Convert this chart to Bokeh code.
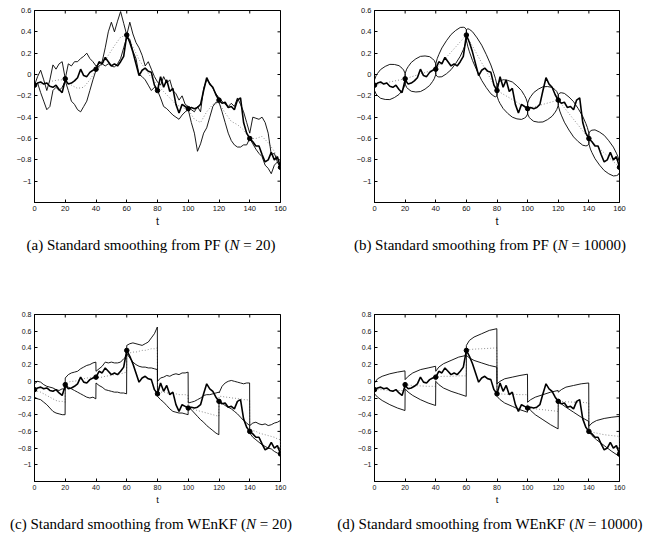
import math
from bokeh.plotting import figure
from bokeh.layouts import column, row
from bokeh.models import FixedTicker, CustomJSTickFormatter, Range1d, Div
from bokeh.embed import file_html
from bokeh.resources import INLINE

# ---------------- data ----------------
x_ticks = [0, 20, 40, 60, 80, 100, 120, 140, 160]
y_ticks_top = [-1.0, -0.8, -0.6, -0.4, -0.2, 0.0, 0.2, 0.4, 0.6]
y_ticks_bottom = [-1.0, -0.8, -0.6, -0.4, -0.2, 0.0, 0.2, 0.4, 0.6, 0.8]

# true trajectory (thick line), t = 0, 2, ..., 160
t_true = list(range(0, 161, 2))
x_true = [-0.10, -0.08, -0.07, -0.09, -0.08, -0.11, -0.12, -0.10, -0.14, -0.17, -0.05,
          -0.09, -0.08, -0.06, -0.03, 0.05, -0.01, -0.02, 0.02, 0.04, 0.05,
          0.12, 0.10, 0.16, 0.12, 0.08, 0.10, 0.08, 0.12, 0.17, 0.37,
          0.30, 0.21, 0.10, -0.01, 0.04, 0.06, 0.03, 0.02, -0.10, -0.15,
          -0.02, -0.12, -0.05, -0.16, -0.13, -0.28, -0.36, -0.28, -0.30, -0.32,
          -0.31, -0.32, -0.31, -0.28, -0.15, -0.03, -0.09, -0.12, -0.19, -0.24,
          -0.27, -0.26, -0.31, -0.30, -0.33, -0.24, -0.22, -0.45, -0.55, -0.60,
          -0.63, -0.67, -0.67, -0.75, -0.82, -0.80, -0.73, -0.80, -0.77, -0.87]

# observations (dots)
t_obs = [0, 20, 40, 60, 80, 100, 120, 140, 160]
y_obs = [-0.10, -0.04, 0.05, 0.37, -0.15, -0.32, -0.24, -0.60, -0.87]

# (a) PF, N = 20
a_t = list(range(0, 161, 2))
a_upper = [-0.10, -0.02, 0.04, -0.05, -0.15, -0.05, 0.09, 0.05, 0.10, 0.12, -0.04,
           0.10, 0.08, 0.12, 0.12, 0.15, 0.17, 0.20, 0.15, 0.12, 0.08,
           0.10, 0.12, 0.25, 0.40, 0.49, 0.40, 0.50, 0.59, 0.48, 0.37,
           0.49, 0.38, 0.30, 0.25, 0.18, 0.08, 0.12, 0.05, -0.02, -0.07,
           -0.10, -0.02, -0.08, -0.05, -0.15, -0.18, -0.24, -0.20, -0.28, -0.30,
           -0.33, -0.35, -0.30, -0.35, -0.13, -0.05, -0.08, -0.13, -0.18, -0.22,
           -0.25, -0.28, -0.30, -0.27, -0.30, -0.22, -0.28, -0.35, -0.45, -0.55,
           -0.40, -0.41, -0.42, -0.40, -0.45, -0.55, -0.75, -0.74, -0.82, -0.87]
a_lower = [-0.10, -0.08, -0.17, -0.25, -0.33, -0.30, -0.15, -0.12, -0.15, -0.12, -0.06,
           -0.15, -0.25, -0.28, -0.33, -0.35, -0.30, -0.25, -0.15, -0.05, 0.04,
           0.08, 0.10, 0.08, 0.10, 0.08, 0.07, 0.10, 0.15, 0.25, 0.35,
           0.33, 0.22, 0.15, 0.00, -0.02, -0.05, -0.10, -0.15, -0.12, -0.15,
           -0.22, -0.30, -0.32, -0.35, -0.38, -0.40, -0.42, -0.38, -0.35, -0.33,
           -0.45, -0.55, -0.72, -0.65, -0.55, -0.50, -0.40, -0.30, -0.26, -0.26,
           -0.35, -0.45, -0.55, -0.62, -0.66, -0.68, -0.68, -0.66, -0.66, -0.60,
           -0.65, -0.70, -0.74, -0.77, -0.85, -0.88, -0.93, -0.85, -0.82, -0.87]
a_mean_t = list(range(0, 161, 4))
a_mean = [-0.10, -0.09, -0.08, -0.06, -0.05, -0.05, -0.10, -0.13, -0.12, -0.05, 0.04,
          0.09, 0.18, 0.27, 0.35, 0.37, 0.26, 0.14, 0.05, -0.03, -0.10,
          -0.16, -0.22, -0.28, -0.31, -0.33, -0.42, -0.45, -0.35, -0.28, -0.27,
          -0.36, -0.44, -0.47, -0.52, -0.60, -0.60, -0.58, -0.64, -0.72, -0.87]

# (b) PF, N = 10000: band per interval (offsets within each 20-step interval)
b_offsets = [0, 1, 2, 4, 7, 10, 13, 16, 18, 19, 20]
b_upper = [
    [-0.05, -0.012, 0.011, 0.047, 0.076, 0.095, 0.094, 0.083, 0.059, 0.042, 0.01],
    [0.01, 0.05, 0.074, 0.113, 0.147, 0.17, 0.174, 0.167, 0.146, 0.131, 0.10],
    [0.10, 0.151, 0.187, 0.249, 0.317, 0.375, 0.413, 0.441, 0.443, 0.439, 0.42],
    [0.42, 0.429, 0.423, 0.401, 0.343, 0.275, 0.187, 0.089, 0.007, -0.039, -0.10],
    [-0.10, -0.074, -0.062, -0.049, -0.055, -0.07, -0.106, -0.151, -0.198, -0.227, -0.27],
    [-0.27, -0.231, -0.207, -0.169, -0.137, -0.115, -0.113, -0.121, -0.143, -0.159, -0.19],
    [-0.19, -0.173, -0.171, -0.177, -0.211, -0.255, -0.319, -0.393, -0.459, -0.497, -0.55],
    [-0.55, -0.529, -0.522, -0.519, -0.540, -0.57, -0.621, -0.681, -0.738, -0.772, -0.82],
]
b_lower = [
    [-0.15, -0.182, -0.199, -0.223, -0.234, -0.235, -0.216, -0.187, -0.151, -0.128, -0.09],
    [-0.09, -0.121, -0.136, -0.157, -0.164, -0.16, -0.137, -0.103, -0.064, -0.040, 0.0],
    [0.0, -0.019, -0.023, -0.021, 0.007, 0.045, 0.103, 0.171, 0.233, 0.269, 0.32],
    [0.32, 0.259, 0.213, 0.131, 0.033, -0.055, -0.123, -0.181, -0.203, -0.209, -0.20],
    [-0.20, -0.244, -0.272, -0.319, -0.365, -0.40, -0.416, -0.421, -0.408, -0.397, -0.37],
    [-0.37, -0.401, -0.417, -0.439, -0.447, -0.445, -0.423, -0.391, -0.353, -0.329, -0.29],
    [-0.29, -0.343, -0.381, -0.447, -0.521, -0.585, -0.629, -0.663, -0.669, -0.667, -0.65],
    [-0.65, -0.699, -0.732, -0.789, -0.850, -0.90, -0.931, -0.951, -0.948, -0.942, -0.92],
]
b_mean = [-0.10, -0.04, 0.05, 0.37, -0.15, -0.32, -0.24, -0.60, -0.87]

# (c) WEnKF, N = 20
c_offsets = [0, 2, 4, 6, 8, 10, 12, 14, 16, 18, 19.9]
c_upper = [
    [-0.03, 0.0, -0.01, -0.04, -0.06, -0.07, -0.08, -0.10, -0.11, -0.09, -0.10],
    [0.04, 0.08, 0.10, 0.11, 0.12, 0.15, 0.17, 0.19, 0.20, 0.22, 0.23],
    [0.12, 0.15, 0.18, 0.23, 0.22, 0.23, 0.22, 0.22, 0.23, 0.27, 0.30],
    [0.43, 0.45, 0.46, 0.45, 0.44, 0.43, 0.45, 0.47, 0.52, 0.57, 0.65],
    [0.0, 0.04, 0.05, 0.07, 0.06, 0.08, 0.09, 0.08, 0.10, 0.10, 0.11],
    [-0.26, -0.25, -0.24, -0.22, -0.20, -0.17, -0.16, -0.16, -0.15, -0.14, -0.13],
    [-0.14, -0.06, -0.02, 0.0, 0.01, 0.0, -0.01, -0.02, -0.03, -0.02, -0.02],
    [-0.53, -0.50, -0.49, -0.51, -0.52, -0.51, -0.53, -0.52, -0.50, -0.49, -0.47],
]
c_lower = [
    [-0.19, -0.21, -0.22, -0.25, -0.28, -0.32, -0.36, -0.38, -0.39, -0.40, -0.40],
    [-0.04, -0.07, -0.09, -0.11, -0.13, -0.15, -0.17, -0.19, -0.20, -0.19, -0.21],
    [-0.02, -0.05, -0.07, -0.10, -0.11, -0.12, -0.13, -0.13, -0.14, -0.14, -0.15],
    [0.33, 0.28, 0.23, 0.20, 0.18, 0.17, 0.17, 0.16, 0.16, 0.15, 0.14],
    [-0.18, -0.22, -0.25, -0.29, -0.33, -0.36, -0.37, -0.38, -0.38, -0.39, -0.40],
    [-0.30, -0.34, -0.38, -0.42, -0.46, -0.49, -0.53, -0.56, -0.59, -0.62, -0.64],
    [-0.22, -0.26, -0.29, -0.31, -0.33, -0.36, -0.39, -0.43, -0.47, -0.50, -0.53],
    [-0.62, -0.67, -0.70, -0.73, -0.76, -0.78, -0.80, -0.81, -0.84, -0.86, -0.88],
]
c_mean = [
    [-0.10, -0.12, -0.13, -0.15, -0.17, -0.19, -0.21, -0.23, -0.24, -0.24, -0.25],
    [-0.02, -0.01, 0.0, 0.0, 0.01, 0.02, 0.03, 0.04, 0.04, 0.05, 0.05],
    [0.04, 0.045, 0.05, 0.06, 0.065, 0.07, 0.08, 0.085, 0.09, 0.10, 0.11],
    [0.33, 0.34, 0.35, 0.35, 0.36, 0.37, 0.37, 0.38, 0.39, 0.39, 0.40],
    [-0.12, -0.13, -0.13, -0.14, -0.14, -0.15, -0.15, -0.16, -0.16, -0.16, -0.17],
    [-0.32, -0.33, -0.34, -0.35, -0.36, -0.37, -0.38, -0.39, -0.40, -0.41, -0.42],
    [-0.18, -0.18, -0.19, -0.19, -0.20, -0.20, -0.21, -0.21, -0.22, -0.22, -0.23],
    [-0.58, -0.59, -0.60, -0.62, -0.63, -0.64, -0.65, -0.66, -0.67, -0.69, -0.70],
]
c_end = [-0.86, -0.89, -0.87]   # upper, lower, mean at t = 160

# (d) WEnKF, N = 10000
d_offsets = [0, 2, 5, 10, 15, 19.9]
d_upper = [
    [-0.02, 0.03, 0.06, 0.09, 0.11, 0.125],
    [0.02, 0.06, 0.10, 0.14, 0.16, 0.18],
    [0.12, 0.17, 0.21, 0.25, 0.29, 0.31],
    [0.43, 0.49, 0.53, 0.57, 0.61, 0.63],
    [-0.03, 0.0, 0.03, 0.05, 0.07, 0.085],
    [-0.25, -0.22, -0.19, -0.16, -0.13, -0.11],
    [-0.13, -0.10, -0.07, -0.05, -0.03, -0.02],
    [-0.54, -0.50, -0.47, -0.445, -0.43, -0.42],
]
d_lower = [
    [-0.15, -0.19, -0.23, -0.28, -0.32, -0.35],
    [-0.09, -0.13, -0.17, -0.22, -0.26, -0.29],
    [0.0, -0.04, -0.08, -0.12, -0.15, -0.18],
    [0.31, 0.28, 0.25, 0.22, 0.19, 0.17],
    [-0.18, -0.22, -0.26, -0.30, -0.34, -0.37],
    [-0.30, -0.35, -0.40, -0.46, -0.52, -0.57],
    [-0.22, -0.27, -0.31, -0.37, -0.43, -0.48],
    [-0.60, -0.65, -0.70, -0.77, -0.84, -0.90],
]
d_mean = [
    [-0.10, -0.10, -0.10, -0.11, -0.11, -0.11],
    [-0.04, -0.045, -0.05, -0.055, -0.06, -0.06],
    [0.05, 0.055, 0.06, 0.06, 0.065, 0.065],
    [0.37, 0.38, 0.385, 0.39, 0.395, 0.40],
    [-0.15, -0.15, -0.155, -0.155, -0.16, -0.16],
    [-0.32, -0.325, -0.33, -0.34, -0.35, -0.36],
    [-0.24, -0.24, -0.245, -0.25, -0.25, -0.26],
    [-0.60, -0.61, -0.62, -0.64, -0.65, -0.66],
]
d_end = [-0.85, -0.89, -0.87]

captions = [
    ("(a) Standard smoothing from PF (", "N", " = 20)"),
    ("(b) Standard smoothing from PF (", "N", " = 10000)"),
    ("(c) Standard smoothing from WEnKF (", "N", " = 20)"),
    ("(d) Standard smoothing from WEnKF (", "N", " = 10000)"),
]

# ---------------- styling helpers ----------------
SANS = "Liberation Sans"
SERIF = "Liberation Serif"
THICK = 1.6
THIN = 0.9
DOT_COLOR = "#8f8f8f"

yfmt_code = """
const v = Math.round(tick * 10) / 10;
return String(v).replace('-', '\u2212');
"""


def make_fig(width, height, bl, br, bt, bb, ymax, yticks, tick_fs, lab_fs):
    p = figure(width=width, height=height,
               x_range=Range1d(0, 160), y_range=Range1d(-1.2, ymax),
               output_backend="svg", toolbar_location=None,
               min_border_left=bl, min_border_right=br,
               min_border_top=bt, min_border_bottom=bb)
    p.xgrid.visible = False
    p.ygrid.visible = False
    p.outline_line_color = "black"
    p.outline_line_width = 1
    p.outline_line_alpha = 1
    p.background_fill_color = "white"
    p.border_fill_color = "white"
    xa = p.xaxis[0]
    ya = p.yaxis[0]
    xa.ticker = FixedTicker(ticks=x_ticks)
    ya.ticker = FixedTicker(ticks=yticks)
    ya.formatter = CustomJSTickFormatter(code=yfmt_code)
    for ax in (xa, ya):
        ax.major_tick_in = 3
        ax.major_tick_out = 0
        ax.minor_tick_line_color = None
        ax.axis_line_color = "black"
        ax.major_tick_line_color = "black"
        ax.major_label_text_font = SANS
        ax.major_label_text_font_size = tick_fs
        ax.major_label_text_color = "#111111"
        ax.major_label_standoff = 3
    xa.axis_label = "t"
    xa.axis_label_text_font = SANS
    xa.axis_label_text_font_style = "normal"
    xa.axis_label_text_font_size = lab_fs
    xa.axis_label_text_color = "#111111"
    xa.axis_label_standoff = 1
    # inward tick marks on the top and right edges (half of each dash is clipped by the frame)
    p.scatter(x_ticks, [ymax] * len(x_ticks), marker="dash", angle=math.pi / 2,
              size=6, line_color="black", line_width=1)
    p.scatter([160] * len(yticks), yticks, marker="dash", size=6,
              line_color="black", line_width=1)
    return p


def draw_common(p):
    p.line(t_true, x_true, line_color="black", line_width=THICK)
    p.scatter(t_obs, y_obs, size=4.5, color="black")


def piecewise(offsets, values, end_vals=None):
    ts, vs = [], []
    for k, seg in enumerate(values):
        for o, v in zip(offsets, seg):
            ts.append(20 * k + o)
            vs.append(v)
    if end_vals is not None:
        ts.append(160)
        vs.append(end_vals)
    return ts, vs


# ---------------- panel (a) ----------------
fa = make_fig(325, 232, 34, 45, 10, 30, 0.6, y_ticks_top, "7.5px", "11px")
fa.line(a_mean_t, a_mean, line_color=DOT_COLOR, line_width=1, line_dash="1 2")
fa.line(a_t, a_upper, line_color="black", line_width=THIN)
fa.line(a_t, a_lower, line_color="black", line_width=THIN)
draw_common(fa)

# ---------------- panel (b) ----------------
fb = make_fig(325, 232, 49, 31, 10, 30, 0.6, y_ticks_top, "7.5px", "11px")
fb.line(t_obs, b_mean, line_color=DOT_COLOR, line_width=1, line_dash="1 2")
loops_x, loops_y = [], []
for k in range(len(b_upper)):
    ts = [20 * k + o for o in b_offsets]
    loops_x.append(ts + ts[::-1] + [ts[0]])
    loops_y.append(b_upper[k] + b_lower[k][::-1] + [b_upper[k][0]])
fb.multi_line(loops_x, loops_y, line_color="black", line_width=THIN)
draw_common(fb)

# ---------------- panel (c) ----------------
fc = make_fig(325, 240, 34, 45, 47, 24, 0.8, y_ticks_bottom, "7px", "9.5px")
for vals, endv, style in ((c_mean, c_end[2], "mean"), (c_upper, c_end[0], "band"),
                          (c_lower, c_end[1], "band")):
    ts, vs = piecewise(c_offsets, vals, endv)
    if style == "mean":
        fc.line(ts, vs, line_color=DOT_COLOR, line_width=1, line_dash="1 2")
    else:
        fc.line(ts, vs, line_color="black", line_width=THIN)
draw_common(fc)

# ---------------- panel (d) ----------------
fd = make_fig(325, 240, 49, 31, 47, 24, 0.8, y_ticks_bottom, "7px", "9.5px")
for vals, endv, style in ((d_mean, d_end[2], "mean"), (d_upper, d_end[0], "band"),
                          (d_lower, d_end[1], "band")):
    ts, vs = piecewise(d_offsets, vals, endv)
    if style == "mean":
        fd.line(ts, vs, line_color=DOT_COLOR, line_width=1, line_dash="1 2")
    else:
        fd.line(ts, vs, line_color="black", line_width=THIN)
draw_common(fd)


# ---------------- captions ----------------
def caption_html(left_cap, right_cap, height, top):
    def span(cap, cx):
        a, n, b = cap
        return ('<span style="position:absolute;left:%dpx;top:%dpx;transform:translateX(-50%%);'
                'white-space:nowrap;">%s<i>%s</i>%s</span>' % (cx, top, a, n, b))
    return ('<div style="position:relative;width:650px;height:%dpx;font-family:\'%s\';'
            'font-size:15px;line-height:17px;color:#000;">%s%s</div>'
            % (height, SERIF, span(left_cap, 151), span(right_cap, 490)))


cap_top = Div(text=caption_html(captions[0], captions[1], 35, 5), width=650, height=35, margin=0)
cap_bot = Div(text=caption_html(captions[2], captions[3], 27, 9), width=650, height=27, margin=0)

layout = column(row(fa, fb, spacing=0), cap_top, row(fc, fd, spacing=0), cap_bot, spacing=0)

open("out.html", "w").write(file_html(layout, INLINE))
